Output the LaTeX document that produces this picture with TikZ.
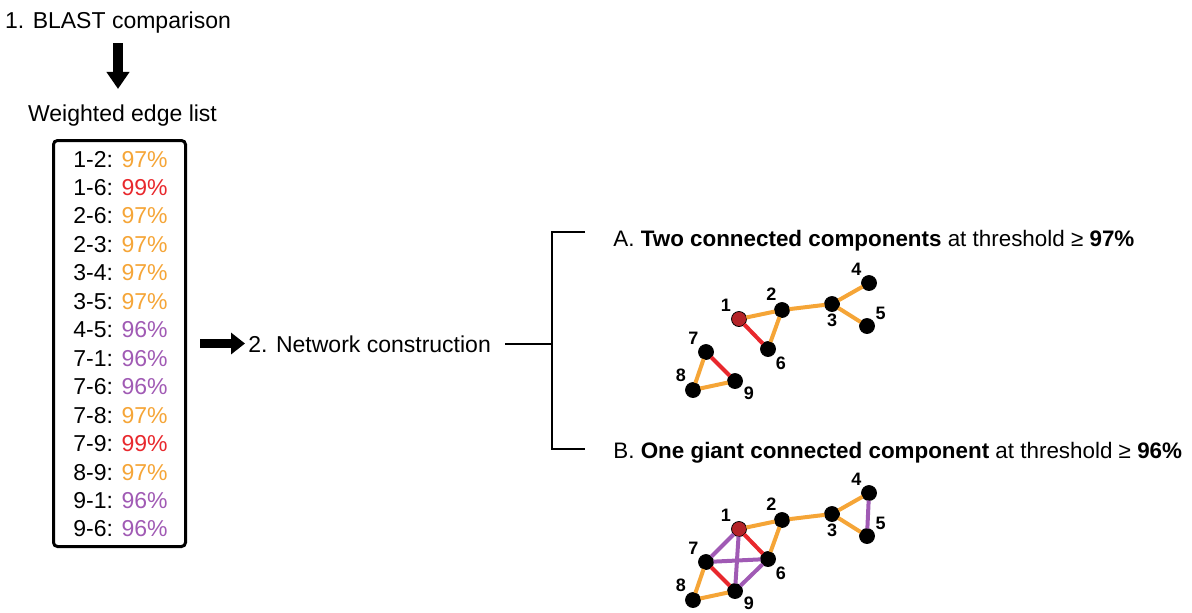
\documentclass[tikz,border=0pt]{standalone}
\usepackage{fontspec}
\setmainfont{Liberation Sans}
\usetikzlibrary{arrows.meta}
\usetikzlibrary{calc}
\definecolor{pctorange}{RGB}{245,165,55}
\definecolor{pctred}{RGB}{232,40,45}
\definecolor{pctpurple}{RGB}{160,90,180}
\definecolor{seedred}{RGB}{180,35,40}

\tikzset{
  txt/.style={inner sep=0pt, anchor=base west, font=\fontsize{11.5}{14}\selectfont},
  head/.style={txt, font=\fontsize{11.2}{14}\selectfont},
  fatarrow/.style={line width=5pt, -{Triangle[length=8.5pt,width=11pt]}},
  sidearrow/.style={line width=4.5pt, -{Triangle[length=7pt,width=10.5pt]}},
  brkline/.style={line width=1pt},
  vtx/.style={circle, draw=black, line width=0.4pt, inner sep=0pt, outer sep=0pt,
    minimum size=7.5pt, label distance=-0.5pt},
  num/.style={font=\fontsize{9}{10}\selectfont\bfseries, inner sep=1pt},
  link/.style={line width=2pt}
}

\begin{document}
\begin{tikzpicture}[x=0.5pt, y=-0.5pt]
			\useasboundingbox (0,0) rectangle (1192,612);

			\node[txt, anchor=base] (blast) at (118,28) {1. BLAST comparison};
			\node[txt, anchor=base] (wel) at (122.5,121) {Weighted edge list};
			\draw[fatarrow] ([yshift=-5pt]blast.south) -- ([yshift=7.5pt]blast.south |- wel.north);

			\node[draw, line width=1.5pt, rounded corners=2pt, minimum width=66pt,
				minimum height=203pt] (box) at (119.5,343.5) {};
			\foreach \pr/\pc/\cl [count=\i] in {1-2/97/pctorange, 1-6/99/pctred, 2-6/97/pctorange,
				2-3/97/pctorange, 3-4/97/pctorange, 3-5/97/pctorange, 4-5/96/pctpurple,
				7-1/96/pctpurple, 7-6/96/pctpurple, 7-8/97/pctorange, 7-9/99/pctred,
				8-9/97/pctorange, 9-1/96/pctpurple, 9-6/96/pctpurple}
			{
				\node[txt] (r\i) at (73,{167+28.46*(\i-1)}) {\pr: \textcolor{\cl}{\pc\%}};
			}

			\node[txt] (netc) at (248,352) {2. Network construction};
			\draw[sidearrow] ([xshift=6.5pt]box.east) -- ([xshift=-1.5pt]netc.west |- box.east);

			\coordinate (brk) at (552,343.5);
			\coordinate (brtop) at (585,232);
			\coordinate (brbot) at (585,449);
			\draw[brkline] ([xshift=7pt]netc.east |- box.east) -- (brk);
			\draw[brkline] (brtop) -- (brtop -| brk) -- (brbot -| brk) -- (brbot);

			\node[head] (hda) at (613,246.5) {A. \textbf{Two connected components} at threshold ≥ \textbf{97\%}};
			\node[head] (hdb) at (613,458) {B. \textbf{One giant connected component} at threshold ≥ \textbf{96\%}};

			\foreach \g/\dy in {a/0,b/210}
			{
				\foreach \n/\x/\y/\ang/\fc in {1/739/319/141/seedred, 2/782/310/115/black,
					3/832/304/270/black, 4/869/283/135/black, 5/867/326/33/black,
					6/768/349/-43/black, 7/706/352/135/black, 8/693/390/130/black,
					9/735/381/-32/black}
				{
					\node[vtx, fill=\fc, label={[num]\ang:\n}] (\g\n) at (\x,{\y+\dy}) {};
				}
			}

			\foreach \u/\v/\c in {1/2/pctorange, 1/6/pctred, 2/6/pctorange, 2/3/pctorange,
				3/4/pctorange, 3/5/pctorange, 7/8/pctorange, 7/9/pctred, 8/9/pctorange}
				\draw[link, draw=\c] (a\u) -- (a\v);

			\foreach \u/\v/\c in {1/2/pctorange, 1/6/pctred, 2/6/pctorange, 2/3/pctorange,
				3/4/pctorange, 3/5/pctorange, 4/5/pctpurple, 7/1/pctpurple, 7/6/pctpurple,
				7/8/pctorange, 7/9/pctred, 8/9/pctorange, 9/1/pctpurple, 9/6/pctpurple}
				\draw[link, draw=\c] (b\u) -- (b\v);
		\end{tikzpicture}
\end{document}
